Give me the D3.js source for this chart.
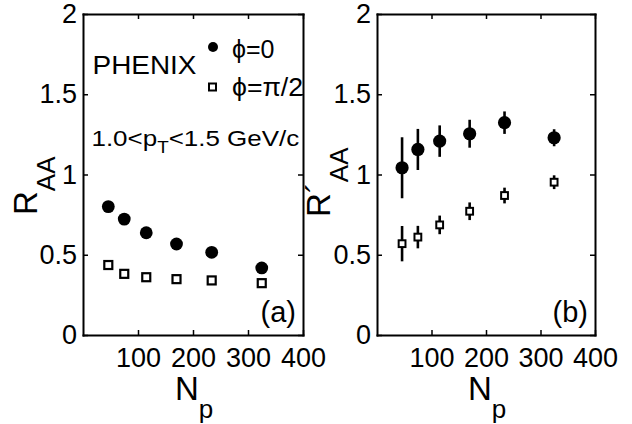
<!DOCTYPE html>
<html>
<head>
<meta charset="utf-8">
<script src="https://cdn.jsdelivr.net/npm/d3@7"></script>
<style>
  html, body { margin: 0; padding: 0; background: #fff; }
  svg { display: block; }
  text { font-family: "Liberation Sans", Arial, Helvetica, sans-serif; fill: #000; }
</style>
</head>
<body>
<svg id="chart" width="632" height="424"></svg>
<script>
// ---- data ----
const Np = [46, 75, 115, 170, 234, 325];
const raaPhi0 = [0.80, 0.722, 0.637, 0.567, 0.515, 0.418];
const raaPhiPi2 = [0.436, 0.381, 0.360, 0.348, 0.340, 0.323];
const rpPhi0 = [1.042, 1.156, 1.208, 1.254, 1.323, 1.229];
const rpPhi0Err = [0.19, 0.128, 0.098, 0.087, 0.07, 0.053];
const rpPhiPi2 = [0.569, 0.610, 0.686, 0.771, 0.869, 0.952];
const rpPhiPi2Err = [0.11, 0.07, 0.058, 0.055, 0.049, 0.043];
const xTicks = [100, 200, 300, 400];
const yTicks = [0, 0.5, 1, 1.5, 2];

const svg = d3.select("#chart");

function panel(x0, x1, opts) {
  const x = d3.scaleLinear().domain([0, 400]).range([x0, x1]);
  const y = d3.scaleLinear().domain([0, 2]).range([335, 14]);
  const g = svg.append("g");
  const tk = 5;

  const ab = g.append("g").attr("transform", `translate(0,${y(0)})`)
    .call(d3.axisBottom(x).tickValues(xTicks).tickSizeInner(-tk).tickSizeOuter(0).tickPadding(12.5).tickFormat(d3.format("d")));
  const at = g.append("g").attr("transform", `translate(0,${y(2)})`)
    .call(d3.axisTop(x).tickValues(xTicks).tickSizeInner(-tk).tickSizeOuter(0).tickFormat(""));
  const al = g.append("g").attr("transform", `translate(${x(0)},0)`)
    .call(d3.axisLeft(y).tickValues(yTicks).tickSizeInner(-tk).tickSizeOuter(0).tickPadding(6).tickFormat(d => d));
  const ar = g.append("g").attr("transform", `translate(${x(400)},0)`)
    .call(d3.axisRight(y).tickValues(yTicks).tickSizeInner(-tk).tickSizeOuter(0).tickFormat(""));
  [ab, at, al, ar].forEach(a => {
    a.selectAll("path.domain").attr("stroke", "#000").attr("stroke-width", 2).attr("stroke-linecap", "square");
    a.selectAll(".tick line").attr("stroke", "#000").attr("stroke-width", 1.5);
    a.selectAll(".tick text").attr("font-size", 27).attr("font-family", "Liberation Sans, Arial, sans-serif").attr("fill", "#000");
  });

  // x label N_p
  const xl = g.append("text").attr("x", (x0 + x1) / 2 - 18).attr("y", 400).attr("font-size", 33);
  xl.append("tspan").text("N");
  xl.append("tspan").attr("font-size", 26).attr("dy", 18).text("p");

  // y label
  const yl = g.append("text")
    .attr("transform", `translate(${opts.ylx},${opts.yly}) rotate(-90)`)
    .attr("font-size", 33);
  yl.append("tspan").text(opts.ylab);
  yl.append("tspan").attr("font-size", 26).attr("dy", 18).text("AA");

  // panel letter
  g.append("text").attr("x", x1 - 7).attr("y", 322).attr("text-anchor", "end")
    .attr("font-size", 29).text(opts.letter);

  return { x, y, g };
}

// ---- left panel (a) ----
const A = panel(83, 303, { ylab: "R", ylx: 37, yly: 215, letter: "(a)" });
A.g.selectAll("circle.d").data(Np).join("circle")
  .attr("cx", d => A.x(d)).attr("cy", (d, i) => A.y(raaPhi0[i])).attr("r", 6.4).attr("fill", "#000");
A.g.selectAll("rect.d").data(Np).join("rect")
  .attr("x", d => A.x(d) - 4).attr("y", (d, i) => A.y(raaPhiPi2[i]) - 4)
  .attr("width", 8).attr("height", 8).attr("fill", "#fff").attr("stroke", "#000").attr("stroke-width", 2.2);

// annotations
A.g.append("text").attr("x", 92.5).attr("y", 73.5).attr("font-size", 26.5)
  .attr("textLength", 104).attr("lengthAdjust", "spacingAndGlyphs").text("PHENIX");
const pt = A.g.append("text").attr("x", 91.5).attr("y", 146.5).attr("font-size", 22)
  .attr("transform", "translate(91.5,0) scale(1.18,1) translate(-91.5,0)");
pt.append("tspan").text("1.0<p");
pt.append("tspan").attr("font-size", 16).attr("dy", 7).text("T");
pt.append("tspan").attr("dy", -7).text("<1.5 GeV/c");

// legend
A.g.append("circle").attr("cx", 213).attr("cy", 47).attr("r", 5).attr("fill", "#000");
A.g.append("rect").attr("x", 209).attr("y", 83.5).attr("width", 7).attr("height", 7)
  .attr("fill", "#fff").attr("stroke", "#000").attr("stroke-width", 2);
A.g.append("text").attr("x", 232).attr("y", 58).attr("font-size", 25).text("\u03D5=0");
A.g.append("text").attr("x", 232).attr("y", 96).attr("font-size", 25)
  .attr("textLength", 71).attr("lengthAdjust", "spacingAndGlyphs").text("\u03D5=\u03C0/2");

// ---- right panel (b) ----
const B = panel(377, 595, { ylab: "R\u00B4", ylx: 330, yly: 217, letter: "(b)" });
B.g.selectAll("line.e0").data(Np).join("line")
  .attr("x1", d => B.x(d)).attr("x2", d => B.x(d))
  .attr("y1", (d, i) => B.y(rpPhi0[i] - rpPhi0Err[i])).attr("y2", (d, i) => B.y(rpPhi0[i] + rpPhi0Err[i]))
  .attr("stroke", "#000").attr("stroke-width", 2.6);
B.g.selectAll("line.e1").data(Np).join("line")
  .attr("x1", d => B.x(d)).attr("x2", d => B.x(d))
  .attr("y1", (d, i) => B.y(rpPhiPi2[i] - rpPhiPi2Err[i])).attr("y2", (d, i) => B.y(rpPhiPi2[i] + rpPhiPi2Err[i]))
  .attr("stroke", "#000").attr("stroke-width", 2.6);
B.g.selectAll("circle.d").data(Np).join("circle")
  .attr("cx", d => B.x(d)).attr("cy", (d, i) => B.y(rpPhi0[i])).attr("r", 6.6).attr("fill", "#000");
B.g.selectAll("rect.d").data(Np).join("rect")
  .attr("x", d => B.x(d) - 3.4).attr("y", (d, i) => B.y(rpPhiPi2[i]) - 3.4)
  .attr("width", 6.8).attr("height", 6.8).attr("fill", "#fff").attr("stroke", "#000").attr("stroke-width", 2);
</script>
</body>
</html>
